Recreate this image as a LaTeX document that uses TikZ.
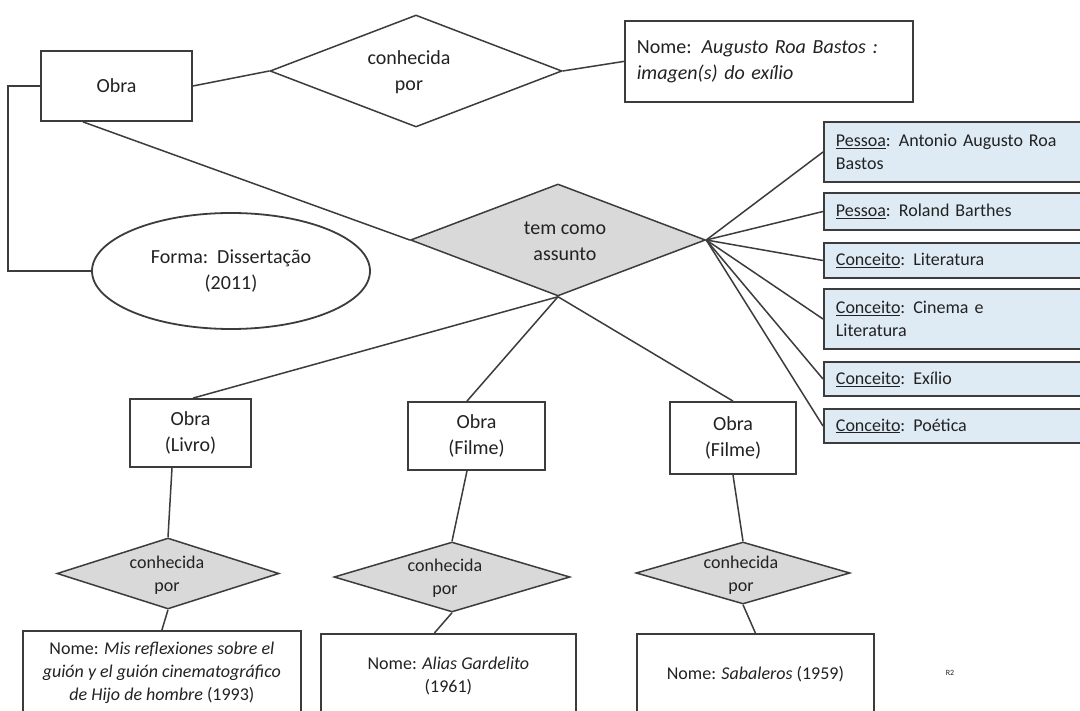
\documentclass[tikz,border=0pt]{standalone}
\usepackage{fontspec}
\setmainfont{Carlito}
\usetikzlibrary{shapes.geometric}
\definecolor{ln}{HTML}{3C3C3C}
\definecolor{tx}{HTML}{222222}
\definecolor{gr}{HTML}{D9D9D9}
\definecolor{bl}{HTML}{DEEBF5}
\newcommand\fa{\fontsize{20}{26}\selectfont}
\newcommand\fb{\fontsize{18}{23}\selectfont}
\tikzset{
  conn/.style={draw=ln, line width=1.5pt},
  ent/.style={draw=ln, line width=1.8pt, fill=white, rectangle, inner sep=0pt, align=center, text=tx},
  rel/.style={draw=ln, line width=1.5pt, diamond, inner sep=0pt, fill=white},
  relg/.style={rel, fill=gr},
  rtext/.style={align=center, text=tx, inner sep=0pt},
  subj/.style={draw=ln, line width=1.8pt, fill=bl, rectangle, anchor=west, inner xsep=12pt, inner ysep=0pt, text width=300pt, align=left, font=\fb, text=tx},
  nomebox/.style={draw=ln, line width=1.8pt, fill=white, rectangle, anchor=north west, inner sep=0pt, align=center, font=\fb, text=tx}
}
\begin{document}
\begin{tikzpicture}[x=1pt, y=-1pt]
\useasboundingbox (0,0) rectangle (1080,711);
\clip (0,0) rectangle (1080,711);
\fill[white] (0,0) rectangle (1080,711);

% top part
\node[ent, minimum width=151, minimum height=70, font=\fa] (obra) at (116.5,86) {Obra};
\node[rel, minimum width=292, minimum height=112] (con) at (416,71) {};
\node[rtext, font=\fa] (cont) at (409,72) {conhecida\\por};
\node[ent, anchor=north west, minimum width=288, minimum height=81, text width=264, inner xsep=12pt, align=left, font=\fa] (nome) at (624,20) {Nome: \textit{Augusto Roa Bastos :}\\\textit{imagen(s) do exílio}};
\node[relg, minimum width=295, minimum height=112] (tem) at (558,240) {};
\node[rtext, font=\fa] (temt) at (565,241) {tem como\\assunto};
\node[ellipse, draw=ln, line width=1.8pt, fill=white, minimum width=278, minimum height=116, inner sep=0pt, align=center, font=\fa, text=tx] (forma) at (231,271) {Forma:\ \ Dissertação\\(2011)};

\draw[conn] (obra.east) -- (con.west);
\draw[conn] (con.east) -- (nome.west);
\draw[conn] ([xshift=-33.5pt]obra.south) -- (tem.west);
\draw[conn] (obra.west) -- ++(-32,0) |- (forma.west);

% subject boxes
\node[subj, minimum height=60] (s1) at (823,152) {\underline{Pessoa}:\hspace{.45em}Antonio Augusto Roa\\Bastos};
\node[subj, minimum height=37] (s2) at (823,211.5) {\underline{Pessoa}:\hspace{.45em}Roland Barthes};
\node[subj, minimum height=35] (s3) at (823,260.5) {\underline{Conceito}:\hspace{.45em}Literatura};
\node[subj, minimum height=60] (s4) at (823,319) {\underline{Conceito}:\hspace{.45em}Cinema e\\Literatura};
\node[subj, minimum height=34] (s5) at (823,379) {\underline{Conceito}:\hspace{.45em}Exílio};
\node[subj, minimum height=34] (s6) at (823,426) {\underline{Conceito}:\hspace{.45em}Poética};
\foreach \s in {s1,s2,s3,s4,s5,s6} \draw[conn] (tem.east) -- (\s.west);

% bottom works
\node[ent, minimum width=121, minimum height=68, font=\fa] (ob1) at (190.5,433) {Obra\\(Livro)};
\node[ent, minimum width=137, minimum height=68, font=\fa] (ob2) at (476.5,436) {Obra\\(Filme)};
\node[ent, minimum width=126, minimum height=72, font=\fa] (ob3) at (733,438) {Obra\\(Filme)};
\draw[conn] (tem.south) -- ([xshift=2.5pt]ob1.north);
\draw[conn] (tem.south) -- ([xshift=-9.5pt]ob2.north);
\draw[conn] (tem.south) -- (ob3.north);

\node[relg, minimum width=222, minimum height=71] (d1) at (168,573.5) {};
\node[relg, minimum width=236, minimum height=70] (d2) at (452,577) {};
\node[relg, minimum width=214, minimum height=62] (d3) at (743,573) {};
\node[rtext, font=\fb] (d1t) at (167,575) {conhecida\\por};
\node[rtext, font=\fb] (d2t) at (445,578) {conhecida\\por};
\node[rtext, font=\fb] (d3t) at (741,575) {conhecida\\por};
\draw[conn] ([xshift=-18.5pt]ob1.south) -- (d1.north);
\draw[conn] ([xshift=-9.5pt]ob2.south) -- (d2.north);
\draw[conn] (ob3.south) -- (d3.north);

\node[nomebox, minimum width=278, minimum height=84] (n1) at (22,630) {Nome: \textit{Mis reflexiones sobre el}\\\textit{guión y el guión cinematográfico}\\\textit{de Hijo de hombre} (1993)};
\node[nomebox, minimum width=255, minimum height=84] (n2) at (320,633) {Nome: \textit{Alias Gardelito}\\(1961)};
\node[nomebox, minimum width=237, minimum height=80] (n3) at (636,633) {Nome: \textit{Sabaleros} (1959)};
\draw[conn] (d1.south) -- (n1.north);
\draw[conn] (d2.south) -- ([xshift=-14pt]n2.north);
\draw[conn] (d3.south) -- (n3.north);

\node[font=\fontsize{8}{9}\selectfont, text=tx] (r2) at (950,673) {R2};
\end{tikzpicture}
\end{document}
